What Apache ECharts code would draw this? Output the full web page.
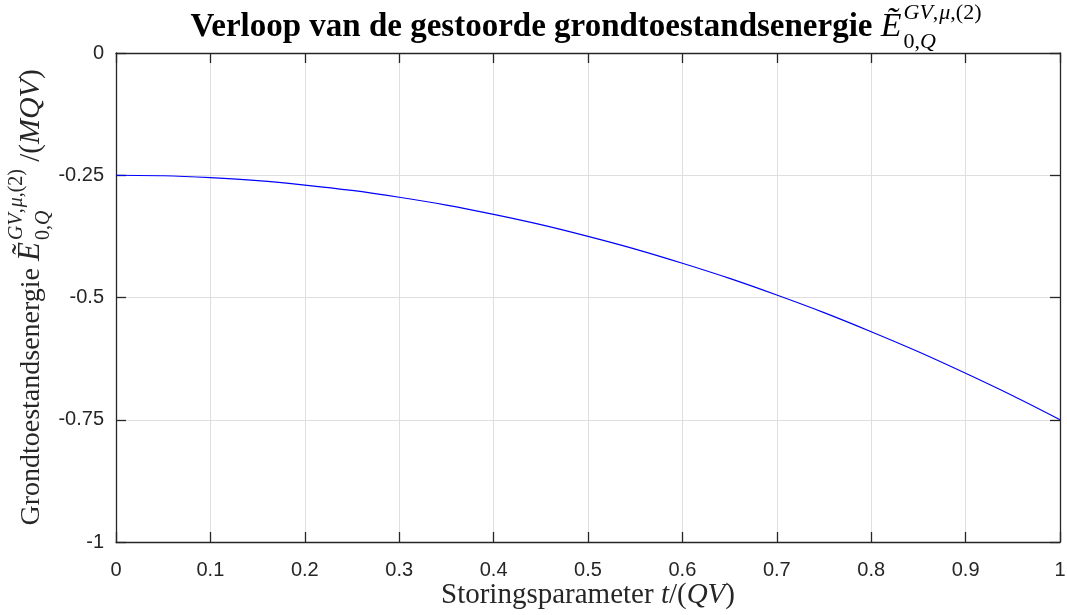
<!DOCTYPE html>
<html>
<head>
<meta charset="utf-8">
<script src="https://cdn.jsdelivr.net/npm/echarts@6/dist/echarts.min.js"></script>
<style>
  html, body { margin: 0; padding: 0; background: #ffffff; }
  #chart { width: 1067px; height: 615px; }
</style>
</head>
<body>
<div id="chart"></div>
<script>
// Perturbation parameter t/(QV) and the perturbed ground-state energy
const tValues = [0, 0.05, 0.1, 0.15, 0.2, 0.25, 0.3, 0.35, 0.4, 0.45, 0.5,
                 0.55, 0.6, 0.65, 0.7, 0.75, 0.8, 0.85, 0.9, 0.95, 1];
const energyValues = [-0.25, -0.251, -0.255, -0.261, -0.27, -0.281, -0.295, -0.311, -0.33, -0.351, -0.375,
                      -0.401, -0.43, -0.461, -0.495, -0.531, -0.57, -0.611, -0.655, -0.701, -0.75];

const xTickLabels = ['0', '0.1', '0.2', '0.3', '0.4', '0.5', '0.6', '0.7', '0.8', '0.9', '1'];
const yTickLabels = ['-1', '-0.75', '-0.5', '-0.25', '0'];

const titleText = 'Verloop van de gestoorde grondtoestandsenergie';
const yLabelText = 'Grondtoestandsenergie';
const xLabelText = 'Storingsparameter';

const SERIF = '"Liberation Serif", "Times New Roman", serif';
const SANS = '"Liberation Sans", Arial, Helvetica, sans-serif';
const INK = '#262626';

// ---- small helper to typeset a line with italic symbols and sub/superscripts ----
const measureCtx = document.createElement('canvas').getContext('2d');
function textWidth(str, size, weight, style) {
  measureCtx.font = (style || 'normal') + ' ' + (weight || 'normal') + ' ' + size + 'px ' + SERIF;
  return measureCtx.measureText(str).width;
}

// runs: list of pieces {text,size,weight,style,rise,gap} or {stack:[[pieces],[pieces]]}
// Returns text elements laid out along a baseline at local y = 0.
function typeset(runs, color) {
  const els = [];
  function addPiece(p, x0) {
    const w = textWidth(p.text, p.size, p.weight, p.style);
    els.push({
      type: 'text',
      x: x0,
      y: -(p.rise || 0) - 0.34 * p.size,
      style: {
        text: p.text, fontFamily: SERIF, fontSize: p.size,
        fontWeight: p.weight || 'normal', fontStyle: p.style || 'normal',
        fill: color, align: 'left', verticalAlign: 'middle'
      }
    });
    return w + (p.gap || 0);
  }
  let x = 0;
  runs.forEach(function (r) {
    if (r.stack) {
      let maxW = 0;
      r.stack.forEach(function (line) {
        let lx = x;
        line.forEach(function (p) { lx += addPiece(p, lx); });
        maxW = Math.max(maxW, lx - x);
      });
      x += maxW;
    } else {
      x += addPiece(r, x);
    }
  });
  return { els: els, width: x };
}

// Ẽ with the stacked superscript GV,μ,(2) and subscript 0,Q
function energySymbol(size, supSize, supRise, subRise) {
  return [
    { text: 'Ẽ', size: size, style: 'italic', gap: 2 },
    { stack: [
      [
        { text: 'GV', size: supSize, style: 'italic', rise: supRise },
        { text: ',', size: supSize, rise: supRise, gap: 1 },
        { text: 'μ', size: supSize, style: 'italic', rise: supRise },
        { text: ',(2)', size: supSize, rise: supRise }
      ],
      [
        { text: '0,', size: supSize, rise: subRise },
        { text: 'Q', size: supSize, style: 'italic', rise: subRise }
      ]
    ] }
  ];
}

// ---- title ----
const titleRuns = [{ text: titleText + ' ', size: 33, weight: 'bold' }]
  .concat(energySymbol(34, 22, 18, -11));
const titleSet = typeset(titleRuns, '#000000');

// ---- y-axis label (rotated) ----
const yRuns = [{ text: yLabelText + ' ', size: 28 }]
  .concat(energySymbol(31, 20, 17, -10))
  .concat([
    { text: ' /(', size: 29 },
    { text: 'MQV', size: 30, style: 'italic' },
    { text: ')', size: 29 }
  ]);
const ySet = typeset(yRuns, INK);

// ---- x-axis label ----
const xRuns = [
  { text: xLabelText + ' ', size: 29 },
  { text: 't', size: 29, style: 'italic' },
  { text: '/(', size: 29 },
  { text: 'QV', size: 29, style: 'italic' },
  { text: ')', size: 29 }
];
const xSet = typeset(xRuns, INK);

const plotLeft = 116, plotRight = 1060, plotTop = 53, plotBottom = 542;
const plotCx = (plotLeft + plotRight) / 2;
const plotCy = (plotTop + plotBottom) / 2;

const chart = echarts.init(document.getElementById('chart'), null, { renderer: 'canvas' });

function boxAxisX(position, primary) {
  return {
    type: 'value', min: 0, max: 1, interval: 0.1, position: position,
    axisLine: { show: true, onZero: false, lineStyle: { color: INK, width: 1.3 } },
    axisTick: { show: true, inside: true, length: 10, lineStyle: { color: INK, width: 1.3 } },
    axisLabel: primary ? {
      show: true, margin: 18, color: INK, fontFamily: SANS, fontSize: 20,
      formatter: function (v) { return xTickLabels[Math.round(v * 10)]; }
    } : { show: false },
    splitLine: { show: primary, lineStyle: { color: '#dfdfdf', width: 1 } }
  };
}
function boxAxisY(position, primary) {
  return {
    type: 'value', min: -1, max: 0, interval: 0.25, position: position,
    axisLine: { show: true, onZero: false, lineStyle: { color: INK, width: 1.3 } },
    axisTick: { show: true, inside: true, length: 10, lineStyle: { color: INK, width: 1.3 } },
    axisLabel: primary ? {
      show: true, margin: 12, color: INK, fontFamily: SANS, fontSize: 20,
      formatter: function (v) { return yTickLabels[Math.round((v + 1) * 4)]; }
    } : { show: false },
    splitLine: { show: primary, lineStyle: { color: '#dfdfdf', width: 1 } }
  };
}

const option = {
  animation: false,
  backgroundColor: '#ffffff',
  grid: {
    left: plotLeft, right: 1067 - plotRight, top: plotTop, bottom: 615 - plotBottom,
    containLabel: false, outerBoundsMode: 'none'
  },
  xAxis: [boxAxisX('bottom', true), boxAxisX('top', false)],
  yAxis: [boxAxisY('left', true), boxAxisY('right', false)],
  series: [{
    type: 'line',
    xAxisIndex: 0, yAxisIndex: 0,
    data: tValues.map(function (t, i) { return [t, energyValues[i]]; }),
    symbol: 'none', showSymbol: false, smooth: 0.3,
    lineStyle: { color: '#0000ff', width: 1.2 },
    z: 3
  }],
  graphic: [
    { type: 'group', x: 586 - titleSet.width / 2, y: 39, children: titleSet.els },
    { type: 'group', x: 41, y: plotCy + ySet.width / 2, rotation: Math.PI / 2, children: ySet.els },
    { type: 'group', x: plotCx - xSet.width / 2, y: 605, children: xSet.els }
  ]
};

chart.setOption(option);
</script>
</body>
</html>
